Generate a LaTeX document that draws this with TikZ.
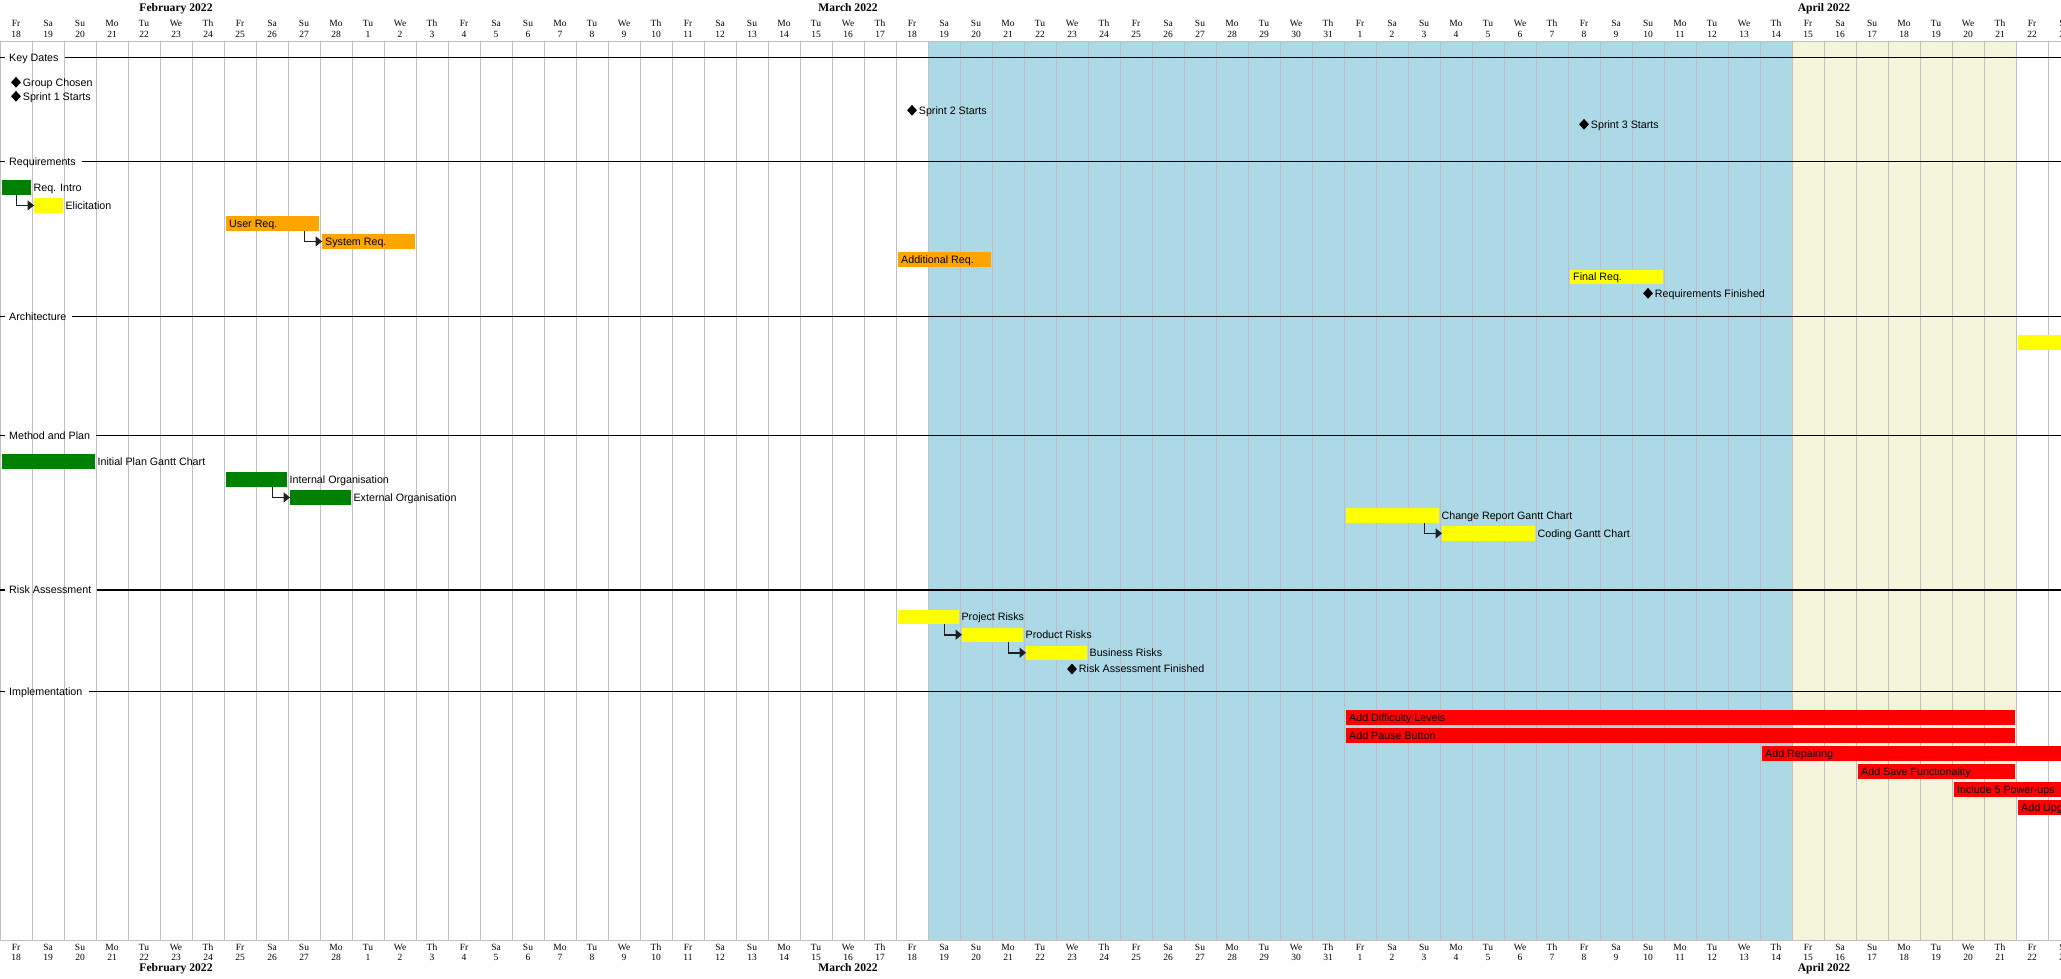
\documentclass[tikz,border=0pt]{standalone}
\usepackage{fontspec}
\setmainfont{Liberation Sans}
\newfontfamily\hdrfont{Liberation Serif}
\usetikzlibrary{arrows.meta,shapes.geometric}
\definecolor{gridgray}{HTML}{C0C0C0}
\definecolor{gridpink}{HTML}{C3BABD}
\definecolor{sprintblue}{HTML}{ADD8E6}
\definecolor{sprintbeige}{HTML}{F5F5DC}
\definecolor{taskgreen}{HTML}{008000}
\definecolor{taskyellow}{HTML}{FFFF00}
\definecolor{taskorange}{HTML}{FFA500}
\definecolor{taskred}{HTML}{FF0000}
\definecolor{arrowdark}{HTML}{202020}
\newcommand\gdayname[1]{\ifcase#1 Fr\or Sa\or Su\or Mo\or Tu\or We\or Th\fi}
\newcommand\gtaskout[6]{%
  \node[barbox,fill=#5,minimum width={(#3-(#2))*32-3.5}] (#1) at ({#2*32+2},#4) {};
  \node[lbl] (#1-l) at ([xshift=2.5pt]#1.east) {#6};}
\newcommand\gtaskin[6]{%
  \node[barbox,fill=#5,minimum width={(#3-(#2))*32-3.5}] (#1) at ({#2*32+2},#4) {};
  \node[lbl] (#1-l) at ([xshift=3pt]#1.west) {#6};}
\newcommand\gmile[4]{%
  \node[mile] (#1) at (#2,#3) {};
  \node[lbl] (#1-l) at ([xshift=1.5pt]#1.east) {#4};}
\newcommand\gsect[3]{%
  \node[lbl] (#1) at (9,#2) {#3};
  \draw[secline] (0,#2) -- (5,#2);
  \draw[secline] ([xshift=6pt]#1.east) -- (2061,#2);}
\tikzset{
  lbl/.style={font=\fontsize{10.7}{12}\selectfont, inner sep=0pt, text height=7.7pt, text depth=0pt, anchor=west},
  hdr/.style={font=\hdrfont\fontsize{9.5}{11}\selectfont, inner sep=0pt, text height=6.3pt, text depth=0pt},
  mon/.style={font=\hdrfont\bfseries\fontsize{11.6}{13}\selectfont, inner sep=0pt, text height=7.7pt, text depth=0pt},
  barbox/.style={anchor=north west, inner sep=0pt, minimum height=14.4pt, draw=none},
  mile/.style={diamond, fill=black, inner sep=0pt, minimum width=10pt, minimum height=11pt},
  gridline/.style={draw=gridgray, line width=1pt},
  gridline2/.style={draw=gridpink, line width=1pt},
  secline/.style={draw=black, line width=1.2pt},
  dep/.style={draw=arrowdark, line width=1.6pt, -{Triangle[length=6.5pt,width=10pt]}},
}
\begin{document}
\begin{tikzpicture}[x=1pt,y=-1pt]
\useasboundingbox (0,0) rectangle (2061,979);
\clip (0,0) rectangle (2061,979);
\fill[white] (0,0) rectangle (2061,979);
% highlighted periods
\fill[sprintblue] (928,41.7) rectangle (1792,940);
\fill[sprintbeige] (1792,41.7) rectangle (2016,940);
% grid
\foreach \k in {0,...,64} {\draw[gridline] (\k*32,41.7) -- (\k*32,940);}
\foreach \k in {30,...,55} {\draw[gridline2] (\k*32,41.7) -- (\k*32,940);}
\draw[gridline] (0,41.7) -- (2061,41.7);
\draw[gridline] (0,940) -- (2061,940);
% headers
\foreach \k in {0,...,64} {
  \pgfmathtruncatemacro\dn{mod(\k,7)}
  \pgfmathtruncatemacro\dd{\k<11 ? \k+18 : (\k<42 ? \k-10 : \k-41)}
  \node[hdr] (tn\k) at (\k*32+16,23) {\gdayname{\dn}};
  \node[hdr] (td\k) at (\k*32+16,34.5) {\dd};
  \node[hdr] (bn\k) at (\k*32+16,947.5) {\gdayname{\dn}};
  \node[hdr] (bd\k) at (\k*32+16,957.3) {\dd};
}
\node[mon] (tfeb) at (176,7.8) {February 2022};
\node[mon] (tmar) at (848,7.8) {March 2022};
\node[mon] (tapr) at (1824,7.8) {April 2022};
\node[mon] (bfeb) at (176,967.5) {February 2022};
\node[mon] (bmar) at (848,967.5) {March 2022};
\node[mon] (bapr) at (1824,967.5) {April 2022};
% sections
\gsect{skd}{57.3}{Key Dates}
\gsect{sreq}{161.5}{Requirements}
\gsect{sarc}{316.3}{Architecture}
\gsect{smp}{435.3}{Method and Plan}
\gsect{sra}{590}{Risk Assessment}
\gsect{simp}{691.3}{Implementation}
% key dates
\gmile{mgroup}{16}{82.3}{Group Chosen}
\gmile{msp1}{16}{96.3}{Sprint 1 Starts}
\gmile{msp2}{912}{110.3}{Sprint 2 Starts}
\gmile{msp3}{1584}{124.3}{Sprint 3 Starts}
% requirements
\gtaskout{reqintro}{0}{1}{180}{taskgreen}{Req. Intro}
\gtaskout{elic}{1}{2}{198}{taskyellow}{Elicitation}
\gtaskin{userreq}{7}{10}{216}{taskorange}{User Req.}
\gtaskin{sysreq}{10}{13}{234}{taskorange}{System Req.}
\gtaskin{addreq}{28}{31}{252}{taskorange}{Additional Req.}
\gtaskin{finalreq}{49}{52}{269.5}{taskyellow}{Final Req.}
\gmile{mreqfin}{1648}{293.3}{Requirements Finished}
\draw[dep] ([xshift=-14.5pt]reqintro.south east) |- (elic.west);
\draw[dep] ([xshift=-14.5pt]userreq.south east) |- (sysreq.west);
% architecture
\node[barbox,fill=taskyellow,minimum width=120pt] (arch) at (2018,335) {};
% method and plan
\gtaskout{initplan}{0}{3}{454}{taskgreen}{Initial Plan Gantt Chart}
\gtaskout{intorg}{7}{9}{472}{taskgreen}{Internal Organisation}
\gtaskout{extorg}{9}{11}{490}{taskgreen}{External Organisation}
\gtaskout{change}{42}{45}{508}{taskyellow}{Change Report Gantt Chart}
\gtaskout{coding}{45}{48}{526}{taskyellow}{Coding Gantt Chart}
\draw[dep] ([xshift=-14.5pt]intorg.south east) |- (extorg.west);
\draw[dep] ([xshift=-14.5pt]change.south east) |- (coding.west);
% risk assessment
\gtaskout{projrisk}{28}{30}{609.3}{taskyellow}{Project Risks}
\gtaskout{prodrisk}{30}{32}{627.3}{taskyellow}{Product Risks}
\gtaskout{busrisk}{32}{34}{645.3}{taskyellow}{Business Risks}
\gmile{mrafin}{1072}{669}{Risk Assessment Finished}
\draw[dep] ([xshift=-14.5pt]projrisk.south east) |- (prodrisk.west);
\draw[dep] ([xshift=-14.5pt]prodrisk.south east) |- (busrisk.west);
% implementation
\gtaskin{diff}{42}{63}{710}{taskred}{Add Difficulty Levels}
\gtaskin{pause}{42}{63}{728}{taskred}{Add Pause Button}
\gtaskin{repair}{55}{70}{746}{taskred}{Add Repairing}
\gtaskin{save}{58}{63}{764}{taskred}{Add Save Functionality}
\gtaskin{power}{61}{70}{782}{taskred}{Include 5 Power-ups}
\gtaskin{upg}{63}{70}{800}{taskred}{Add Upgrades}
\end{tikzpicture}
\end{document}
